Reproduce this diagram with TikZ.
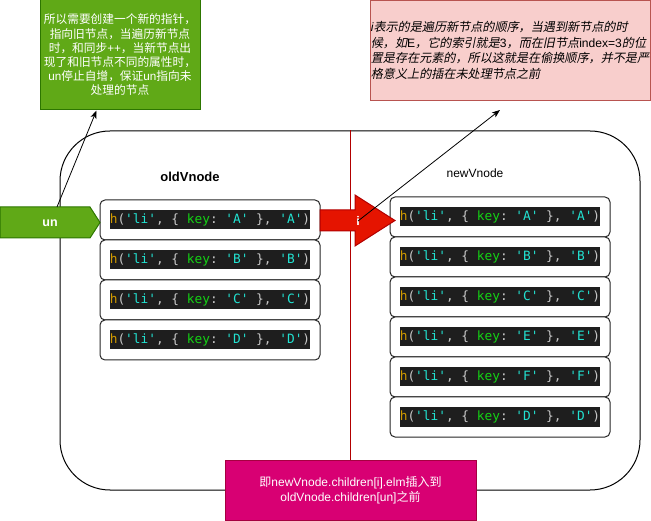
\documentclass[tikz,border=0pt]{standalone}
\usepackage{fontspec}
\setmainfont{Liberation Sans}
\setmonofont{DejaVu Sans Mono}
\newfontfamily\cjk{Noto Sans CJK SC}
\newfontfamily\cjki[FakeSlant=0.2]{Noto Sans CJK SC}
\usetikzlibrary{arrows.meta,calc}
\definecolor{gfill}{HTML}{60A917}
\definecolor{gdraw}{HTML}{2D7600}
\definecolor{pfill}{HTML}{F8CECC}
\definecolor{pdraw}{HTML}{B85450}
\definecolor{rfill}{HTML}{E51400}
\definecolor{rdraw}{HTML}{B20000}
\definecolor{mfill}{HTML}{D80073}
\definecolor{mdraw}{HTML}{A50040}
\definecolor{codebg}{HTML}{1E1E1E}
\definecolor{hcol}{HTML}{D19A00}
\definecolor{pcol}{HTML}{C8C8C8}
\definecolor{scol}{HTML}{22E3D2}
\definecolor{kcol}{HTML}{14D214}
\newcommand{\hcode}[1]{\ttfamily\color{hcol}h\color{pcol}(\color{scol}'li'\color{pcol}, \{ \color{kcol}key\color{pcol}: \color{scol}'#1' \color{pcol}\}, \color{scol}'#1'\color{pcol})}
\tikzset{
  itembox/.style={draw=black!85, line width=1pt, rounded corners=5pt, fill=white, minimum width=220pt, minimum height=40pt, inner sep=0pt},
  codebar/.style={fill=codebg, inner xsep=0pt, inner ysep=0pt, minimum width=200pt, minimum height=19pt, font=\fontsize{12.8}{14}\selectfont},
  frame/.style={draw=black, line width=1pt, rounded corners=50pt, minimum width=580pt, minimum height=359pt, inner sep=0pt},
  greennote/.style={draw=gdraw, fill=gfill, line width=1pt, minimum width=160pt, minimum height=110pt, inner sep=0pt, text=white, align=center, font=\fontsize{11.7}{14.2}\selectfont},
  pinknote/.style={draw=pdraw, fill=pfill, line width=1pt, minimum width=280pt, minimum height=100pt, inner sep=0pt, text=black, align=left, font=\fontsize{12.1}{15.5}\selectfont},
  magbox/.style={draw=mdraw, fill=mfill, line width=1pt, minimum width=251pt, minimum height=60pt, inner sep=0pt, text=white, align=center, font=\fontsize{12}{15}\selectfont},
  ptr/.style={draw=black, line width=0.8pt, -{Stealth[length=8pt,width=6pt,inset=2pt]}},
  whitelab/.style={text=white, font=\bfseries\fontsize{12.5}{14}\selectfont, inner sep=0pt},
}
\begin{document}
\begin{tikzpicture}[x=1pt,y=-1pt]
\useasboundingbox (0,0) rectangle (651,521);
% notes
\node[greennote] (note1) at (120,55) {{\cjk 所以需要创建一个新的指针，}\\{\cjk 指向旧节点，当遍历新节点}\\{\cjk 时，和同步}++{\cjk ，当新节点出}\\{\cjk 现了和旧节点不同的属性时，}\\un{\cjk 停止自增，保证}un{\cjk 指向未}\\{\cjk 处理的节点}};
\node[pinknote] (note2) at (510,50.5) {\itshape i{\cjki 表示的是遍历新节点的顺序，当遇到新节点的时}\\{\cjki 候，如}E{\cjki ，它的索引就是}3{\cjki ，而在旧节点}index=3{\cjki 的位}\\{\cjki 置是存在元素的，所以这就是在偷换顺序，并不是严}\\{\cjki 格意义上的插在未处理节点之前}};
% frame
\node[frame] (frame) at (350,310.5) {};
\node[magbox] (mag) at (350.5,490) {{\cjk 即}newVnode.children[i].elm{\cjk 插入到}\\oldVnode.children[un]{\cjk 之前}};
\draw[rdraw, line width=1pt] (frame.north) -- (frame.north |- mag.north);
% titles
\node[font=\bfseries\fontsize{13}{15}\selectfont, inner sep=0pt] (oldt) at (190,177) {oldVnode};
\node[font=\fontsize{12}{14}\selectfont, inner sep=0pt] (newt) at (475,173) {newVnode};
% old list
\foreach \k/\y in {A/220,B/260,C/300,D/340}{
  \node[itembox] (old\k) at (210,\y) {};
  \node[codebar] (oc\k) at (old\k) {\hcode{\k}};
}
% new list
\foreach \k/\y in {A/217,B/257,C/297,E/337,F/377,D/417}{
  \node[itembox] (new\k) at (500,\y) {};
  \node[codebar] (nc\k) at (new\k) {\hcode{\k}};
}
% un pointer
\fill[gfill, draw=gdraw, line width=1pt] (0,207) -- (90,207) -- (100,222.5) -- (90,238) -- (0,238) -- cycle;
\node[whitelab] (unlab) at (50,223) {un};
% i pointer
\fill[rfill, draw=rdraw, line width=1pt] (320,210) -- (355,210) -- (355,195) -- (395,220.5) -- (355,246) -- (355,231) -- (320,231) -- cycle;
\node[whitelab] (ilab) at (358,221) {i};
% connectors
\coordinate (unTop) at (57,207);
\coordinate (n1tip) at ($(note1.south west)+(57,0)$);
\draw[ptr] (unTop) -- (n1tip);
\coordinate (iTip) at (500,110);
\draw[ptr] (ilab.center) -- (iTip);
\end{tikzpicture}
\end{document}
